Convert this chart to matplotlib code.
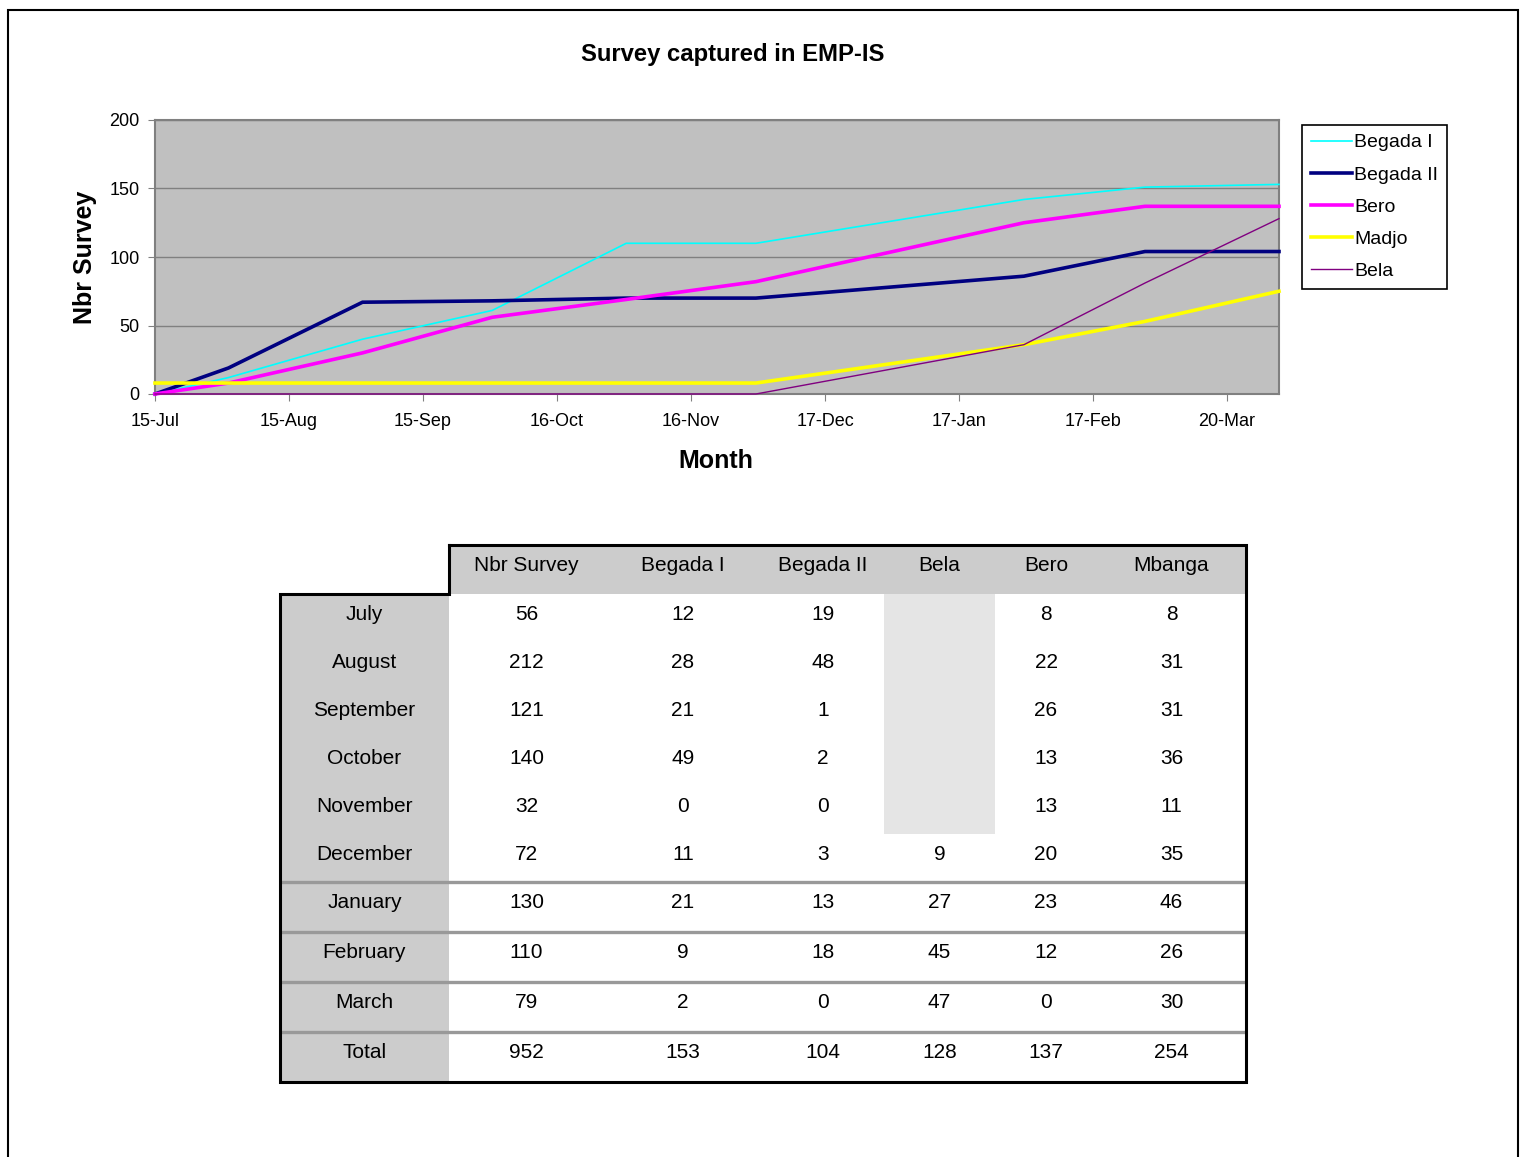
import datetime as dt
import matplotlib
matplotlib.use("Agg")
import matplotlib.pyplot as plt
import matplotlib.dates as mdates
from matplotlib.patches import Rectangle

plt.rcParams['font.family'] = ['Liberation Sans', 'DejaVu Sans']

# Chart data (cumulative surveys)
dates = [dt.date(2006, 7, 15), dt.date(2006, 8, 1), dt.date(2006, 9, 1),
         dt.date(2006, 10, 1), dt.date(2006, 11, 1), dt.date(2006, 12, 1),
         dt.date(2007, 2, 1), dt.date(2007, 3, 1), dt.date(2007, 4, 1)]
begada1 = [0, 12, 40, 61, 110, 110, 142, 151, 153]
begada2 = [0, 19, 67, 68, 70, 70, 86, 104, 104]
bero = [0, 8, 30, 56, 69, 82, 125, 137, 137]
madjo = [8, 8, 8, 8, 8, 8, 36, 53, 75]
bela = [0, 0, 0, 0, 0, 0, 36, 81, 128]

series = [("Begada I", begada1, "#00FFFF", 1.2),
          ("Begada II", begada2, "#000080", 2.6),
          ("Bero", bero, "#FF00FF", 2.6),
          ("Madjo", madjo, "#FFFF00", 2.6),
          ("Bela", bela, "#800080", 1.0)]

# Table data
col_names = ["Nbr Survey", "Begada I", "Begada II", "Bela", "Bero", "Mbanga"]
months = ["July", "August", "September", "October", "November", "December",
          "January", "February", "March", "Total"]
nbr_survey = [56, 212, 121, 140, 32, 72, 130, 110, 79, 952]
t_begada1 = [12, 28, 21, 49, 0, 11, 21, 9, 2, 153]
t_begada2 = [19, 48, 1, 2, 0, 3, 13, 18, 0, 104]
t_bela = [None, None, None, None, None, 9, 27, 45, 47, 128]
t_bero = [8, 22, 26, 13, 13, 20, 23, 12, 0, 137]
t_mbanga = [8, 31, 31, 36, 11, 35, 46, 26, 30, 254]
table_cols = [nbr_survey, t_begada1, t_begada2, t_bela, t_bero, t_mbanga]

W, H = 1525, 1157
fig = plt.figure(figsize=(W / 100, H / 100), dpi=100)

# outer frame
fig.patches.append(Rectangle((8 / W, -0.01), 1510 / W, 1 - 10 / H + 0.01,
                             transform=fig.transFigure, fill=False,
                             edgecolor='black', linewidth=1.5))

# ---- line chart ----
ax = fig.add_axes([155 / W, 1 - 394 / H, 1124 / W, 274 / H])
ax.set_facecolor('#C0C0C0')
for name, vals, col, lw in series:
    ax.plot(dates, vals, color=col, linewidth=lw, label=name,
            solid_joinstyle='miter', zorder=3, clip_on=False)

start = dt.date(2006, 7, 15)
ax.set_xlim(start, dt.date(2007, 4, 1))
ax.set_ylim(0, 200)
ax.set_xticks([start + dt.timedelta(days=31 * k) for k in range(9)])
ax.xaxis.set_major_formatter(mdates.DateFormatter('%d-%b'))
ax.set_yticks(range(0, 201, 50))
ax.yaxis.grid(True, color='#808080', linewidth=1)
ax.set_axisbelow(True)
for sp in ax.spines.values():
    sp.set_color('#808080')
    sp.set_linewidth(1.5)
ax.tick_params(axis='both', colors='#808080', length=5, labelcolor='black')
ax.tick_params(axis='x', labelsize=13, pad=9)
ax.tick_params(axis='y', labelsize=13, pad=6)

fig.text(733 / W, 1 - 54 / H, "Survey captured in EMP-IS", ha='center', va='center',
         fontsize=17.2, fontweight='bold')
fig.text(85 / W, 1 - 257 / H, "Nbr Survey", ha='center', va='center', rotation=90,
         fontsize=18, fontweight='bold')
fig.text(716 / W, 1 - 461 / H, "Month", ha='center', va='center',
         fontsize=18, fontweight='bold')

leg = ax.legend(loc='upper left', bbox_to_anchor=(1302 / W, 1 - 125 / H),
                bbox_transform=fig.transFigure, fontsize=14, frameon=True,
                fancybox=False, edgecolor='black', framealpha=1,
                handlelength=2.1, handletextpad=0.15, labelspacing=0.75,
                borderpad=0.45, borderaxespad=0)
leg.get_frame().set_linewidth(1.2)

# ---- table ----
tx = fig.add_axes([0, 0, 1, 1], zorder=-1)
tx.set_xlim(0, W)
tx.set_ylim(H, 0)
tx.axis('off')

col_edges = [280, 449, 604, 762, 884, 995, 1097, 1246]
row_edges = [545, 594, 642, 690, 738, 786, 834, 882, 932, 982, 1032, 1082]
grey = '#CCCCCC'

# header band and label column
tx.add_patch(Rectangle((col_edges[1], row_edges[0]), col_edges[-1] - col_edges[1],
                       row_edges[1] - row_edges[0], color=grey, linewidth=0))
tx.add_patch(Rectangle((col_edges[0], row_edges[1]), col_edges[1] - col_edges[0],
                       row_edges[-1] - row_edges[1], color=grey, linewidth=0))

# empty Bela cells shaded
bela_i = col_names.index("Bela")
empty = [i for i, v in enumerate(t_bela) if v is None]
if empty:
    tx.add_patch(Rectangle((col_edges[bela_i + 1], row_edges[empty[0] + 1]),
                           col_edges[bela_i + 2] - col_edges[bela_i + 1],
                           row_edges[empty[-1] + 2] - row_edges[empty[0] + 1],
                           color='#E5E5E5', linewidth=0))

for j, name in enumerate(col_names):
    cx = (col_edges[j + 1] + col_edges[j + 2]) / 2
    tx.text(cx, (row_edges[0] + row_edges[1]) / 2 - 4, name, ha='center', va='center',
            fontsize=15)

for i, m in enumerate(months):
    cy = (row_edges[i + 1] + row_edges[i + 2]) / 2 - 4
    tx.text((col_edges[0] + col_edges[1]) / 2, cy, m, ha='center', va='center', fontsize=15)
    for j, colvals in enumerate(table_cols):
        v = colvals[i]
        if v is None:
            continue
        cx = (col_edges[j + 1] + col_edges[j + 2]) / 2
        tx.text(cx, cy, str(v), ha='center', va='center', fontsize=15)

# grey separators for the last rows
for y in row_edges[7:11]:
    tx.plot([col_edges[0], col_edges[-1]], [y, y], color='#999999', linewidth=2.4,
            solid_capstyle='butt')

# thick outline
ox = [col_edges[1], col_edges[-1], col_edges[-1], col_edges[0], col_edges[0], col_edges[1], col_edges[1]]
oy = [row_edges[0], row_edges[0], row_edges[-1], row_edges[-1], row_edges[1], row_edges[1], row_edges[0]]
tx.plot(ox, oy, color='black', linewidth=2.2, solid_joinstyle='miter')

fig.savefig("out.png", dpi=100)
